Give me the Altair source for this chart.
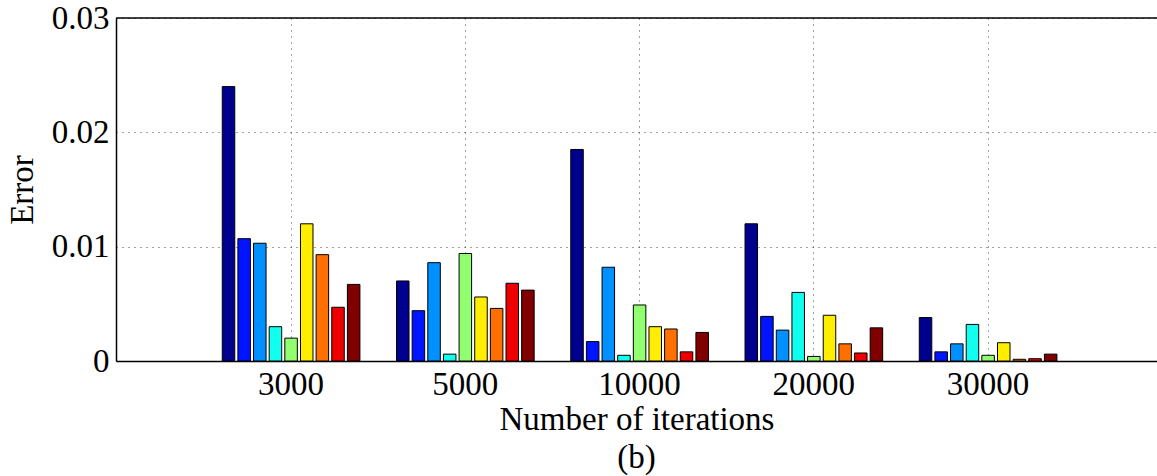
import altair as alt
import pandas as pd

iterations = ["3000", "5000", "10000", "20000", "30000"]
methods = ["M1", "M2", "M3", "M4", "M5", "M6", "M7", "M8", "M9"]
colors = ["#00008F", "#0014FF", "#0090FF", "#10FFEF", "#90FF70",
          "#FFEE00", "#FF7000", "#EE0000", "#800000"]

err_3000 = [0.0240, 0.0107, 0.0103, 0.0030, 0.0020, 0.0120, 0.0093, 0.0047, 0.0067]
err_5000 = [0.0070, 0.0044, 0.0086, 0.0006, 0.0094, 0.0056, 0.0046, 0.0068, 0.0062]
err_10000 = [0.0185, 0.0017, 0.0082, 0.0005, 0.0049, 0.0030, 0.0028, 0.0008, 0.0025]
err_20000 = [0.0120, 0.0039, 0.0027, 0.0060, 0.0004, 0.0040, 0.0015, 0.0007, 0.0029]
err_30000 = [0.0038, 0.0008, 0.0015, 0.0032, 0.0005, 0.0016, 0.00015, 0.0002, 0.0006]

y_ticks = [0, 0.01, 0.02, 0.03]

groups = [err_3000, err_5000, err_10000, err_20000, err_30000]
rows = []
for it, vals in zip(iterations, groups):
    for m, v in zip(methods, vals):
        rows.append({"iterations": it, "method": m, "error": v})
df = pd.DataFrame(rows)

FONT = "Liberation Serif"
FS = 33

bars = alt.Chart(df).mark_bar(stroke="black", strokeWidth=1).encode(
    x=alt.X("iterations:N", sort=iterations,
            scale=alt.Scale(paddingInner=0.21, paddingOuter=0.592, align=0.515),
            axis=alt.Axis(title="Number of iterations", labelAngle=0, ticks=False, tickSize=0,
                          grid=True, gridDash=[1, 5], gridColor="#444", gridOpacity=1,
                          bandPosition=0.5, domainColor="black", domainWidth=1.5,
                          labelPadding=7, titlePadding=2)),
    xOffset=alt.XOffset("method:N", sort=methods,
                        scale=alt.Scale(paddingInner=0.2, paddingOuter=0)),
    y=alt.Y("error:Q", scale=alt.Scale(domain=[0, 0.03], nice=False),
            axis=alt.Axis(title="Error", values=y_ticks, format=".2~f", ticks=False, tickSize=0,
                          grid=True, gridDash=[1, 5], gridColor="#444", gridOpacity=1,
                          domainColor="black", domainWidth=1.5,
                          labelPadding=7, titlePadding=12)),
    color=alt.Color("method:N", sort=methods,
                    scale=alt.Scale(domain=methods, range=colors), legend=None),
)

top = alt.Chart(pd.DataFrame({"v": [0.03]})).mark_rule(color="black", strokeWidth=1.5).encode(
    y=alt.Y("v:Q")
)

chart = alt.layer(bars, top).properties(
    width=1041, height=343,
    autosize=alt.AutoSizeParams(type="none"),
    padding={"left": 116, "top": 18, "right": 0, "bottom": 115},
    title=alt.TitleParams("(b)", orient="bottom", anchor="middle", frame="group",
                          font=FONT, fontSize=FS, fontWeight="normal", color="black", offset=6),
).configure_axis(
    labelFont=FONT, labelFontSize=FS, labelColor="black",
    titleFont=FONT, titleFontSize=FS, titleFontWeight="normal", titleColor="black",
).configure_view(stroke=None)

chart.save("out.html", embed_options={"renderer": "svg", "actions": False})
